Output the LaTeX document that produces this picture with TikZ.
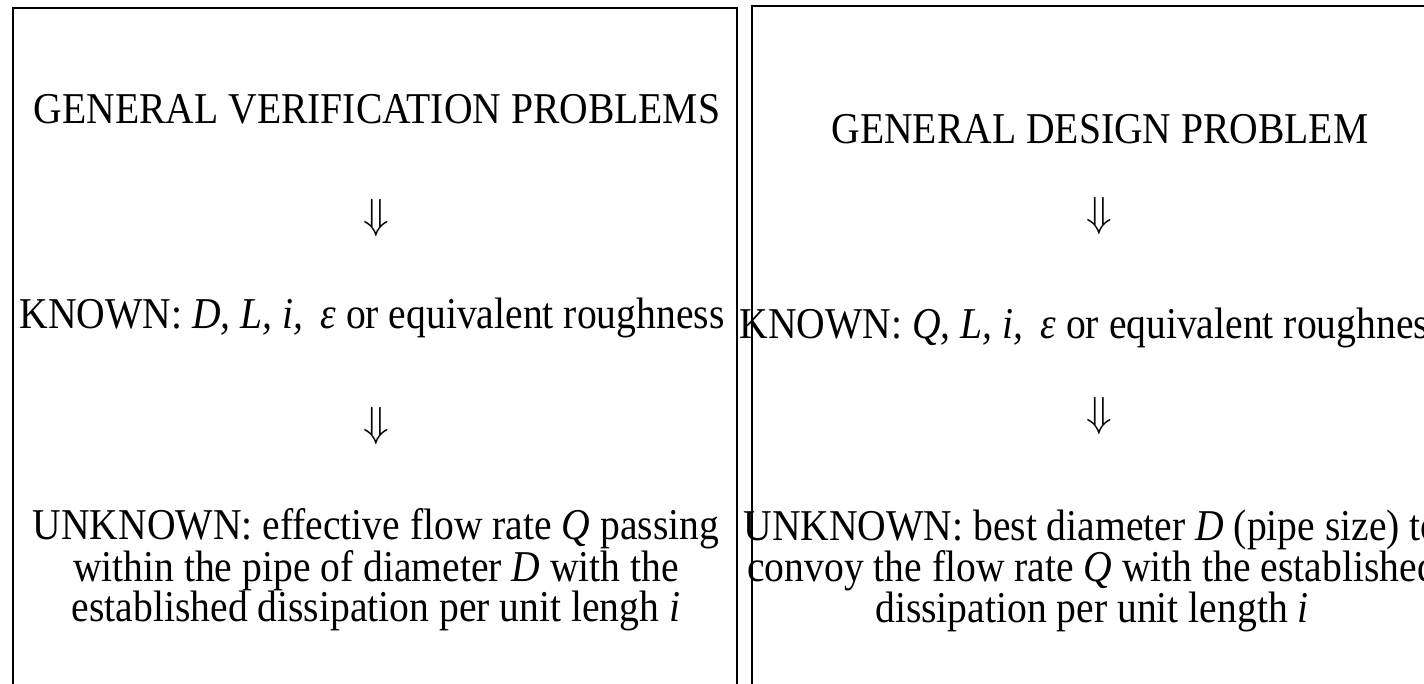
\documentclass[tikz,border=0pt]{standalone}
\usepackage{graphicx}
\usepackage{fontspec}
\setmainfont[FakeStretch=0.9]{Liberation Serif}

\begin{document}
\begin{tikzpicture}[x=1pt,y=-1pt,
  probtext/.style={font=\fontsize{44}{37.5}\selectfont,inner sep=0pt,align=center},
  downarr/.style={inner sep=0pt}]
\useasboundingbox (0,0) rectangle (1424,684);
% the two frames, open at the bottom
\draw[line width=1.6pt] (13,700) -- (13,8) -- (737,8) -- (737,700);
\draw[line width=1.8pt] (752,700) -- (752,6) -- (1450,6);

% verification problems
\node[probtext,anchor=base] (verTitle) at (377,124) {GENERAL VERIFICATION PROBLEMS};
\node[downarr] (verArrA) at (376,218) {\scalebox{4.2}{$\Downarrow$}};
\node[probtext,anchor=base] (verKnown) at (372,329) {KNOWN: \textit{D, L, i,}\, \textit{ε} or equivalent roughness};
\node[downarr] (verArrB) at (376,426) {\scalebox{4.2}{$\Downarrow$}};
\node[probtext] (verUnknown) at (376,570) {UNKNOWN: effective flow rate \textit{Q} passing\\
  within the pipe of diameter \textit{D} with the\\
  established dissipation per unit lengh \textit{i}};

% design problem
\node[probtext,anchor=base] (desTitle) at (1100,144) {GENERAL DESIGN PROBLEM};
\node[downarr] (desArrA) at (1099,216) {\scalebox{4.2}{$\Downarrow$}};
\node[probtext,anchor=base] (desKnown) at (1092,339) {KNOWN: \textit{Q, L, i,}\, \textit{ε} or equivalent roughness};
\node[downarr] (desArrB) at (1099,416) {\scalebox{4.2}{$\Downarrow$}};
\node[probtext] (desUnknown) at (1092,571) {UNKNOWN: best diameter \textit{D} (pipe size) to\\
  convoy the flow rate \textit{Q} with the established\\
  dissipation per unit length \textit{i}};
\end{tikzpicture}
\end{document}
